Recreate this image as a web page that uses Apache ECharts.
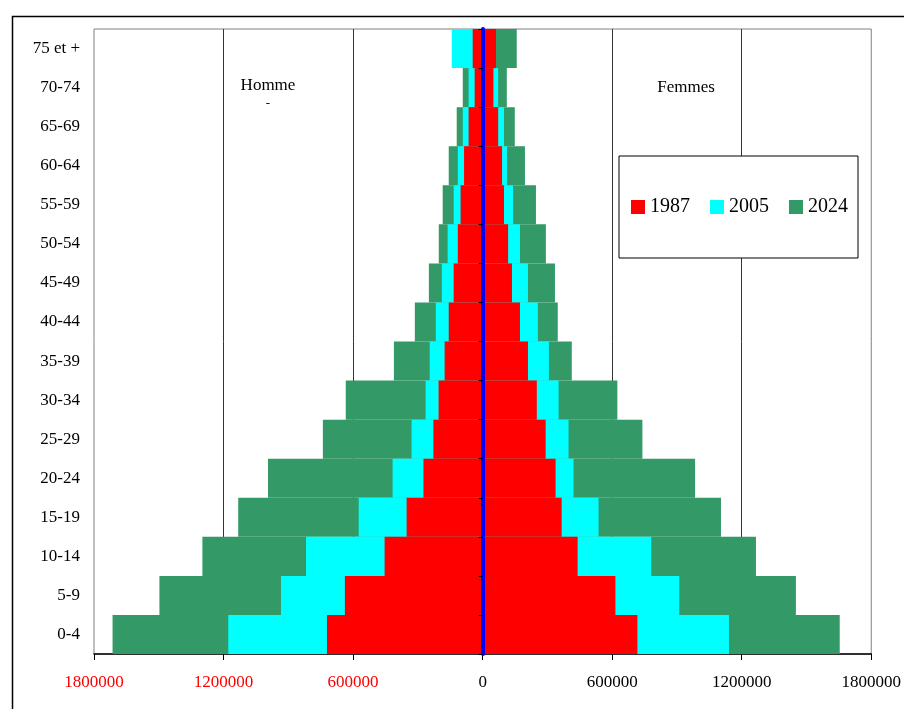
<!DOCTYPE html>
<html>
<head>
<meta charset="utf-8">
<script src="https://cdn.jsdelivr.net/npm/echarts@6/dist/echarts.min.js"></script>
<style>
html,body{margin:0;padding:0;background:#fff;}
#chart{width:904px;height:709px;}
</style>
</head>
<body>
<div id="chart"></div>
<script>
// Age groups, bottom to top
const categories = ['0-4','5-9','10-14','15-19','20-24','25-29','30-34','35-39','40-44','45-49','50-54','55-59','60-64','65-69','70-74','75 et +'];
const years = ['1987','2005','2024'];
// Hommes (men) – plotted to the left
const hommes1987 = [721000,638000,454000,352000,274000,228000,204000,176000,157000,134000,115000,102000,86000,65000,37000,46000];
const hommes2005 = [1178000,934000,818000,574000,417000,329000,264000,245000,217000,189000,162000,134000,115000,92000,65000,143000];
const hommes2024 = [1714000,1497000,1298000,1132000,994000,740000,634000,411000,314000,249000,203000,185000,157000,120000,92000,134000];
// Femmes (women) – plotted to the right
const femmes1987 = [717000,615000,440000,366000,338000,292000,251000,210000,173000,136000,118000,99000,90000,72000,50000,62000];
const femmes2005 = [1141000,911000,781000,537000,421000,398000,352000,307000,256000,210000,173000,141000,113000,99000,72000,50000];
const femmes2024 = [1654000,1451000,1266000,1104000,984000,740000,624000,413000,348000,335000,293000,247000,196000,149000,112000,158000];
const xTicks = {min:-1800000, max:1800000, interval:600000};

const colors = {'1987':'#FF0000','2005':'#00FFFF','2024':'#339966'};
const FONT = 'Liberation Serif';

function bar(name, data, negate){
  return {
    name: name, type: 'bar',
    data: data.map(v => negate ? -v : v),
    barWidth: '100%', barGap: '-100%',
    itemStyle: {color: colors[name]},
    silent: true, animation: false
  };
}

const series = [
  bar('2024', hommes2024, true), bar('2024', femmes2024, false),
  bar('2005', hommes2005, true), bar('2005', femmes2005, false),
  bar('1987', hommes1987, true), bar('1987', femmes1987, false)
];

const chart = echarts.init(document.getElementById('chart'), null, {renderer:'canvas'});
chart.setOption({
  animation: false,
  backgroundColor: '#fff',
  grid: {left:94, top:29, width:779, height:625, show:true, borderColor:'#808080', borderWidth:1, backgroundColor:'transparent'},
  legend: {
    data: years, left: 619, top: 156, orient:'horizontal',
    padding: [41, 10, 41, 12], itemGap: 20, itemWidth: 14, itemHeight: 14,
    icon: 'rect', borderColor: '#000', borderWidth: 1, backgroundColor: '#fff',
    textStyle: {fontFamily: FONT, fontSize: 20, color: '#000'}
  },
  xAxis: {
    type: 'value', min: xTicks.min, max: xTicks.max, interval: xTicks.interval,
    axisLine: {show:true, onZero:false, lineStyle:{color:'#000', width:1.5}},
    axisTick: {show:true, length:6, lineStyle:{color:'#000'}},
    axisLabel: {
      fontFamily: FONT, fontSize: 17, margin: 20,
      formatter: v => String(Math.abs(v)),
      color: v => (v < 0 ? '#FF0000' : '#000000')
    },
    splitLine: {show:true, showMinLine:false, showMaxLine:false, lineStyle:{color:'#333', width:1}}
  },
  yAxis: [{
    type: 'category', data: categories, position:'left',
    axisLine: {show:false}, axisTick: {show:false},
    axisLabel: {fontFamily: FONT, fontSize: 17, color:'#000', margin: 14}
  },{
    type: 'category', data: categories, position:'left', z: 10,
    axisLine: {show:true, onZero:true, onZeroAxisIndex:0, lineStyle:{color:'#0000FF', width:4}},
    axisTick: {show:true, length:4, lineStyle:{color:'#000', width:1}},
    axisLabel: {show:false}
  }],
  series: series,
  graphic: [
    {type:'rect', left:10, top:14, shape:{x:0,y:0,width:1000,height:800}, style:{fill:'none', stroke:'#000', lineWidth:1.5}, silent:true, z:-10},
    {type:'text', x:268, y:86, style:{text:'Homme', font:'17px "Liberation Serif"', fill:'#000', align:'center', verticalAlign:'middle'}},
    {type:'text', x:268, y:104, style:{text:'-', font:'13px "Liberation Serif"', fill:'#000', align:'center', verticalAlign:'middle'}},
    {type:'text', x:686, y:88, style:{text:'Femmes', font:'17px "Liberation Serif"', fill:'#000', align:'center', verticalAlign:'middle'}}
  ]
});
</script>
</body>
</html>
